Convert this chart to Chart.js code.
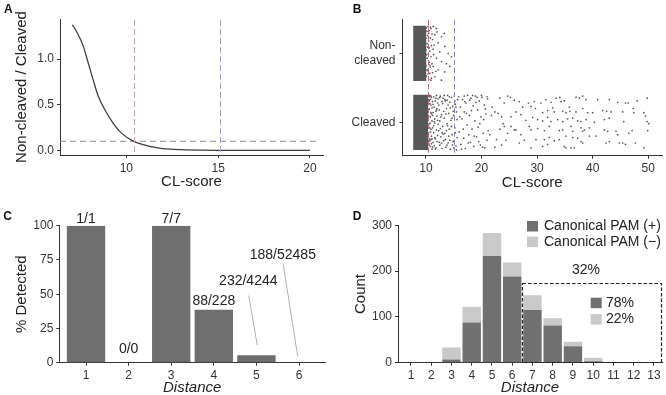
<!DOCTYPE html>
<html><head><meta charset="utf-8">
<script src="https://cdn.jsdelivr.net/npm/chart.js@4.4.0/dist/chart.umd.min.js"></script>
<style>
html,body{margin:0;padding:0;background:#fff;}
#wrap{position:relative;width:666px;height:395px;overflow:hidden;background:#fff;}
canvas{position:absolute;}
</style></head><body>
<div id="wrap">
<canvas id="cA" width="333" height="195" style="left:0;top:0"></canvas>
<canvas id="cB" width="333" height="195" style="left:333px;top:0"></canvas>
<canvas id="cC" width="333" height="200" style="left:0;top:195px"></canvas>
<canvas id="cD" width="333" height="200" style="left:333px;top:195px"></canvas>
</div>
<script>
// ---------- Panel A data ----------
const ratioScore = [7.06, 7.3, 7.66, 7.93, 8.2, 8.48, 8.84, 9.29, 9.75, 10.38, 11.02, 11.56, 12.0, 13.0, 14.0, 16.0, 18.0, 20.0];
const ratioValue = [1.377, 1.30, 1.14, 0.956, 0.77, 0.59, 0.443, 0.297, 0.187, 0.102, 0.058, 0.033, 0.02, 0.008, 0.003, 0.001, 0.0, 0.0];
const ratioCutoff = 0.1;
const cutRed = 10.4;
const cutBlue = 15.1;
const scoreTicksA = [10, 15, 20];
const ratioTicks = [0, 0.5, 1.0];

// ---------- Panel B data ----------
const groupNames = ['Cleaved', 'Non-cleaved'];
const groupLabels = [['Cleaved'], ['Non-', 'cleaved']];
const denseCleaved = [7.7, 10.4];
const denseNonCleaved = [7.7, 10.1];
const jitterHalf = 0.4;
const scoreTicksB = [10, 20, 30, 40, 50];
const nonCleavedPoints = [
[9.9,0.30],[10.0,-0.18],[10.0,0.05],[10.1,0.37],[10.1,-0.33],[10.2,0.14],[10.2,-0.07],[10.3,0.26],[10.3,-0.25],[10.4,-0.01],
[10.4,0.39],[10.5,-0.38],[10.5,0.18],[10.6,-0.13],[10.6,0.33],[10.7,0.03],[10.7,-0.29],[10.8,0.22],[10.8,-0.20],[10.9,0.36],
[10.9,-0.05],[11.0,0.11],[11.0,-0.36],[11.1,0.28],[11.1,-0.15],[11.2,-0.28],[11.3,0.06],[10.2,0.32],[10.4,-0.30],[10.6,0.08],
[10.9,-0.39],[11.2,0.20],[10.0,0.22],[10.1,-0.02],[10.3,0.09],[10.5,0.29],[10.7,-0.17],[10.0,-0.34],[10.2,-0.24],[10.8,0.38],
[11.3,0.39],[11.9,0.36],[11.6,0.27],[12.8,0.24],[13.3,0.29],[12.2,0.15],[13.4,0.10],[12.5,0.02],[14.0,0.0],[14.6,-0.05],
[11.9,-0.07],[12.8,-0.12],[13.7,-0.15],[11.3,-0.19],[12.2,-0.24],[13.4,-0.27],[14.3,-0.19],[11.6,-0.34],[12.8,-0.39],[11.5,0.12],
[11.8,-0.26],[11.4,-0.02],[12.0,0.31]
];
const cleavedPoints = [
[10.2,0.35],[10.3,0.12],[10.3,-0.22],[10.4,0.38],[10.4,-0.05],[10.3,0.27],[10.5,-0.31],[10.2,-0.12],[10.4,0.05],[10.4,-0.38],
[10.5,0.33],[10.5,-0.17],[10.6,0.19],[10.6,-0.02],[10.7,0.39],[10.7,-0.27],[10.8,0.08],[10.8,-0.35],[10.9,0.25],[10.9,-0.10],
[11.0,0.36],[11.0,-0.20],[11.1,0.02],[11.1,-0.39],[11.2,0.30],[11.2,-0.08],[11.3,0.14],[11.3,-0.29],[11.4,0.37],[11.4,-0.15],
[11.5,0.22],[11.5,-0.34],[11.6,0.05],[11.6,-0.01],[11.7,0.31],[11.7,-0.24],[11.8,0.16],[11.8,-0.37],[11.9,0.39],[11.9,-0.11],
[12.0,0.09],[12.0,-0.28],[12.1,0.28],[12.1,-0.19],[10.2,0.22],[10.3,0.02],[10.5,-0.28],[10.6,0.31],[10.8,-0.14],[10.9,0.38],
[11.0,0.12],[11.2,-0.36],[11.3,0.26],[11.5,0.01],[11.6,-0.22],[11.8,0.35],[12.0,0.20],[10.3,-0.36],[10.4,0.17],[10.7,-0.08],
[11.1,0.21],[11.4,-0.05],[11.7,-0.39],[12.1,0.03],[10.3,0.25],[10.3,-0.20],[10.6,-0.33],[10.9,-0.25],[11.2,0.10],[11.9,0.18],
[10.5,0.09],[10.6,-0.24],[10.7,0.27],[10.8,0.33],[10.9,0.14],[11.0,-0.31],[10.4,-0.26],[10.6,0.37],[10.8,-0.01],[11.1,-0.24],
[12.2,0.34],[12.3,-0.12],[12.4,0.18],[12.5,-0.33],[12.5,0.02],[12.6,0.38],[12.7,-0.21],[12.8,0.11],[12.9,-0.38],[13.0,0.27],
[13.0,-0.06],[13.1,0.35],[13.2,-0.27],[13.3,0.06],[13.4,-0.16],[13.5,0.31],[13.6,-0.36],[13.7,0.20],[13.8,-0.02],[13.9,0.39],
[14.0,-0.30],[14.1,0.13],[14.2,-0.10],[14.3,0.29],[14.4,-0.39],[14.5,0.03],[14.6,0.36],[14.7,-0.18],[14.8,0.23],[14.9,-0.28],
[15.0,0.10],[15.1,0.38],[15.2,-0.08],[15.3,0.26],[15.4,-0.34],[15.5,0.15],[15.6,-0.22],[15.7,0.33],[12.3,0.25],[12.6,-0.09],
[12.9,0.30],[13.2,0.16],[13.5,-0.25],[13.8,0.32],[14.1,-0.20],[14.4,0.21],[14.7,0.06],[15.0,-0.37],[15.3,-0.15],[15.6,0.04],
[12.4,-0.29],[12.8,-0.30],[13.3,0.39],[13.7,-0.12],[14.2,0.37],[14.6,-0.06],[15.2,0.31],[15.5,-0.40],[12.7,0.08],[13.1,-0.17],
[13.9,-0.05],[14.3,-0.26],[14.9,0.16],[15.4,0.22],[12.2,-0.03],[13.6,0.12],[14.8,-0.33],[12.5,0.36],[13.4,0.33],[14.0,0.25],
[15.1,-0.26],[12.9,-0.15],[13.8,-0.33],
[15.9,0.37],[16.0,-0.14],[16.2,0.22],[16.3,-0.32],[16.5,0.05],[16.6,0.33],[16.8,-0.23],[16.9,0.15],[17.1,-0.38],[17.2,0.28],
[17.4,-0.04],[17.5,0.39],[17.7,-0.18],[17.8,0.10],[18.0,-0.29],[18.1,0.35],[18.3,-0.10],[18.5,0.24],[18.6,-0.35],[18.8,0.02],
[18.9,0.38],[19.1,-0.21],[19.3,0.18],[19.4,-0.07],[19.6,0.31],[19.8,-0.33],[19.9,0.08],[20.1,0.36],[20.3,-0.16],[20.5,0.25],
[20.6,-0.37],[20.8,0.12],[21.0,-0.26],[21.1,0.34],[16.1,0.08],[16.7,-0.10],[17.0,0.30],[17.6,-0.30],[18.2,0.17],[18.7,-0.20],
[19.2,0.36],[19.7,-0.02],[20.2,-0.36],[20.7,0.19],[16.4,-0.39],[17.3,0.13],[18.4,0.39],[19.5,-0.28],[20.4,0.04],[21.2,-0.12],
[16.9,0.38],[17.9,0.32],[19.0,0.29],[20.0,0.39],[21.0,0.37],
[21.5,-0.18],[21.8,0.10],[21.9,0.22],[22.4,0.15],[22.4,-0.36],[22.7,-0.25],[22.96,0.13],[23.3,0.35],[23.3,-0.10],[23.6,0.08],
[23.6,-0.33],[23.9,-0.02],[24.1,0.28],[24.1,-0.06],[24.4,-0.26],[24.7,0.38],[24.7,-0.16],[25.2,0.36],[25.3,0.08],[25.3,-0.06],
[25.9,0.32],[25.9,-0.11],[26.2,0.15],[26.2,-0.11],[26.8,0.30],[26.8,-0.30],[27.1,0.11],[27.1,-0.18],[27.4,0.22],[27.7,-0.26],
[28.0,0.03],[28.45,0.28],[28.6,-0.06],
[29.5,0.30],[28.9,0.23],[30.7,0.28],[31.6,0.33],[32.5,0.29],[33.4,0.35],[34.3,0.30],[34.9,0.31],[34.1,0.36],[37.0,0.36],
[37.6,0.35],[38.2,0.38],[38.8,0.33],[40.9,0.33],[43.0,0.33],[44.5,0.29],[45.9,0.28],[46.4,0.28],[48.0,0.31],[49.8,0.35],
[29.7,0.20],[31.0,0.14],[31.9,0.17],[32.8,0.21],[33.1,0.15],[34.6,0.16],[35.2,0.14],[35.8,0.22],[35.9,0.16],[37.0,0.15],
[38.2,0.20],[39.1,0.14],[40.0,0.14],[41.8,0.17],[42.5,0.16],[43.3,0.15],[45.4,0.15],[47.3,0.20],[47.4,0.14],[49.2,0.14],
[29.2,0.07],[30.1,0.04],[31.0,0.02],[31.9,0.07],[32.5,0.01],[33.7,0.04],[34.6,0.01],[35.5,0.05],[36.4,0.06],[37.3,0.02],
[37.9,0.01],[38.8,0.04],[40.3,0.0],[42.1,0.04],[43.0,0.06],[45.6,0.01],[49.5,0.09],[49.8,0.01],[50.1,-0.02],
[28.9,-0.11],[30.1,-0.09],[31.3,-0.12],[32.2,-0.06],[34.0,-0.12],[34.6,-0.11],[36.1,-0.06],[36.4,-0.13],[37.9,-0.08],[38.2,-0.13],
[38.5,-0.11],[39.4,-0.08],[42.1,-0.11],[42.7,-0.13],[44.2,-0.13],[46.5,-0.16],[47.1,-0.12],[49.9,-0.12],
[29.8,-0.25],[31.3,-0.25],[32.2,-0.22],[33.1,-0.27],[34.0,-0.25],[35.2,-0.20],[36.4,-0.22],[37.3,-0.23],[37.9,-0.28],[39.4,-0.20],
[40.6,-0.20],[42.4,-0.30],[43.0,-0.28],[44.5,-0.18],[44.8,-0.30],[45.4,-0.30],[45.9,-0.32],[47.7,-0.30],[49.2,-0.37],
[28.9,-0.37],[31.0,-0.35],[31.9,-0.32],[34.9,-0.35],[35.2,-0.37],[36.1,-0.37],[36.7,-0.37],[38.2,-0.30]
];

// ---------- Panel C data ----------
const distC = [1, 2, 3, 4, 5, 6];
const detectedN = [1, 0, 7, 88, 232, 188];
const totalN = [1, 0, 7, 228, 4244, 52485];
const pctDetected = [100, 0, 100, 38.6, 5.47, 0.36];
const pctTicks = [0, 25, 50, 75, 100];

// ---------- Panel D data ----------
const distD = [1, 2, 3, 4, 5, 6, 7, 8, 9, 10, 11, 12, 13];
const pamPlus = [0, 0, 7, 88, 233, 188, 115, 81, 36, 3, 1, 0, 0];
const pamMinus = [0, 0, 26, 34, 50, 31, 32, 16, 10, 8, 0, 0, 0];
const countTicks = [0, 100, 200, 300];
const seriesNames = ['Canonical PAM (+)', 'Canonical PAM (\u2212)'];
const boxShare = '32%';
const boxSplit = ['78%', '22%'];
const boxFrom = 6.5, boxTop = 174;

// ---------- styling ----------
const FONT = "'Liberation Sans', Arial, Helvetica, sans-serif";
Chart.defaults.font.family = FONT;
Chart.defaults.color = '#333';
const DARK = '#707070', LIGHT = '#c9c9c9';

function axis(extra) {
  const base = {
    grid: {display: true, drawOnChartArea: false, drawTicks: true, tickLength: 3, color: '#333', lineWidth: 1, offset: false},
    border: {display: true, color: '#333', width: 1},
    ticks: {font: {size: 12}, color: '#333', padding: 3, autoSkip: false, maxRotation: 0},
    offset: false
  };
  return Object.assign(base, extra);
}
const fixTicks = arr => (s => { s.ticks = arr.map(v => ({value: v})); });

function letter(ch, x, y) {
  return {id: 'letter' + ch, afterDraw(chart) {
    const c = chart.ctx; c.save();
    c.font = 'bold 12px ' + FONT; c.fillStyle = '#111';
    c.textBaseline = 'alphabetic'; c.textAlign = 'left';
    c.fillText(ch, x, y); c.restore();
  }};
}
function vlines(list) {
  return {id: 'vlines', afterDatasetsDraw(chart) {
    const {ctx, chartArea, scales} = chart;
    ctx.save();
    list.forEach(l => {
      const px = Math.round(scales.x.getPixelForValue(l.v)) + 0.5;
      ctx.strokeStyle = l.color; ctx.lineWidth = 1; ctx.setLineDash(l.dash);
      ctx.beginPath(); ctx.moveTo(px, chartArea.top + 1); ctx.lineTo(px, chartArea.bottom - 3); ctx.stroke();
    });
    ctx.restore();
  }};
}
const common = {responsive: false, animation: false, events: [],
  plugins: {legend: {display: false}, tooltip: {enabled: false}}};

// ---------- Panel A ----------
new Chart(document.getElementById('cA'), {
  type: 'scatter',
  data: {datasets: [
    {type: 'line', data: ratioScore.map((x, i) => ({x, y: ratioValue[i]})), borderColor: '#3d3d3d', borderWidth: 1.3,
     pointRadius: 0, cubicInterpolationMode: 'monotone', fill: false},
    {type: 'line', data: [{x: 6.39, y: ratioCutoff}, {x: 20.35, y: ratioCutoff}], borderColor: '#8c8c8c', borderWidth: 1,
     borderDash: [6, 4], pointRadius: 0, fill: false}
  ]},
  options: Object.assign({}, common, {
    layout: {padding: {top: 19, right: 10, left: 0, bottom: 0}},
    scales: {
      x: axis({type: 'linear', min: 6.39, max: 20.71, afterBuildTicks: fixTicks(scoreTicksA),
        afterFit(s) { s.height = 40; },
        title: {display: true, text: 'CL-score', font: {size: 15}, color: '#222', padding: {top: 0, bottom: 4}}}),
      y: axis({type: 'linear', min: -0.05, max: 1.44, afterBuildTicks: fixTicks(ratioTicks),
        afterFit(s) { s.width = 60; },
        ticks: {font: {size: 12}, color: '#333', padding: 3, callback: v => Number(v).toFixed(1)},
        title: {display: true, text: 'Non-cleaved / Cleaved', font: {size: 15}, color: '#222', padding: {top: 13, bottom: 0}}})
    }
  }),
  plugins: [vlines([{v: cutRed, color: '#ec9c9c', dash: [6, 3]}, {v: cutBlue, color: '#9a9aee', dash: [6, 3]}]), letter('A', 4, 12.5)]
});

// ---------- Panel B ----------
const centerOf = name => groupNames.indexOf(name);
function band(range, name) {
  const c = centerOf(name);
  return {type: 'line', data: [{x: range[0], y: c + jitterHalf}, {x: range[1], y: c + jitterHalf}],
    fill: {value: c - jitterHalf}, backgroundColor: '#575757', borderWidth: 0, pointRadius: 0, showLine: true};
}
function pts(list, name) {
  const c = centerOf(name);
  return {data: list.map(([x, j]) => ({x, y: c + j})), pointRadius: 0.85, pointBorderWidth: 0,
    backgroundColor: '#555555', borderWidth: 0};
}
new Chart(document.getElementById('cB'), {
  type: 'scatter',
  data: {datasets: [
    band(denseCleaved, 'Cleaved'), band(denseNonCleaved, 'Non-cleaved'),
    pts(cleavedPoints, 'Cleaved'), pts(nonCleavedPoints, 'Non-cleaved')
  ]},
  options: Object.assign({}, common, {
    layout: {padding: {top: 19, right: 3, left: 0, bottom: 0}},
    scales: {
      x: axis({type: 'linear', min: 5.79, max: 52.47, afterBuildTicks: fixTicks(scoreTicksB),
        afterFit(s) { s.height = 39.3; },
        title: {display: true, text: 'CL-score', font: {size: 15}, color: '#222', padding: {top: 0, bottom: 3}}}),
      y: axis({type: 'linear', min: -0.484, max: 1.497, afterBuildTicks: fixTicks([0, 1]),
        afterFit(s) { s.width = 69.5; },
        ticks: {font: {size: 12, lineHeight: 1.2}, color: '#333', padding: 4, callback: v => groupLabels[v]}})
    }
  }),
  plugins: [vlines([{v: cutRed, color: '#e06060', dash: [5, 3]}, {v: cutBlue, color: '#8080e6', dash: [5, 3]}]), letter('B', 19.7, 12.5)]
});

// ---------- Panel C ----------
const callouts = [
  {lift: 3}, {lift: 10}, {lift: 3}, {lift: 5},
  {tx: 4.81, ty: 56.5, line: [4.82, 49.0, 5.02, 12.8]},
  {tx: 5.62, ty: 75.9, line: [5.63, 71.8, 5.97, 4.4]}
];
const cLabels = {id: 'cLabels', afterDatasetsDraw(chart) {
  const {ctx, scales: {x, y}} = chart;
  ctx.save();
  ctx.font = '14px ' + FONT; ctx.fillStyle = '#222'; ctx.textAlign = 'center'; ctx.textBaseline = 'alphabetic';
  distC.forEach((d, i) => {
    const text = detectedN[i] + '/' + totalN[i];
    const c = callouts[i];
    if (c.lift !== undefined) {
      ctx.fillText(text, x.getPixelForValue(d), y.getPixelForValue(pctDetected[i]) - c.lift);
    } else {
      ctx.fillText(text, x.getPixelForValue(c.tx), y.getPixelForValue(c.ty));
      ctx.strokeStyle = '#9a9a9a'; ctx.lineWidth = 0.8;
      ctx.beginPath();
      ctx.moveTo(x.getPixelForValue(c.line[0]), y.getPixelForValue(c.line[1]));
      ctx.lineTo(x.getPixelForValue(c.line[2]), y.getPixelForValue(c.line[3]));
      ctx.stroke();
    }
  });
  ctx.restore();
}};
new Chart(document.getElementById('cC'), {
  type: 'bar',
  data: {datasets: [{data: distC.map((x, i) => ({x, y: pctDetected[i]})), backgroundColor: '#6e6e6e',
    categoryPercentage: 1, barPercentage: 0.9, borderWidth: 0}]},
  options: Object.assign({}, common, {
    layout: {padding: {top: 30.7, right: 8, left: 0, bottom: 0}},
    scales: {
      x: axis({type: 'linear', min: 0.373, max: 6.61, afterBuildTicks: fixTicks(distC),
        afterFit(s) { s.height = 32.3; },
        title: {display: true, text: 'Distance', font: {size: 15, style: 'italic', lineHeight: 1}, color: '#222', padding: {top: 0, bottom: 0}}}),
      y: axis({type: 'linear', min: 0, max: 100, afterBuildTicks: fixTicks(pctTicks),
        afterFit(s) { s.width = 59.3; },
        title: {display: true, text: '% Detected', font: {size: 15}, color: '#222', padding: {top: 12.7, bottom: 0}}})
    }
  }),
  plugins: [cLabels, letter('C', 3.3, 25)]
});

// ---------- Panel D ----------
const dDecor = {id: 'dDecor', afterDatasetsDraw(chart) {
  const {ctx, scales: {x, y}} = chart;
  ctx.save();
  const x0 = x.getPixelForValue(boxFrom), x1 = chart.chartArea.right - 1;
  const y0 = y.getPixelForValue(boxTop), y1 = y.getPixelForValue(1.5);
  ctx.strokeStyle = '#222'; ctx.lineWidth = 1.2; ctx.setLineDash([3.5, 2]);
  ctx.strokeRect(Math.round(x0) + 0.5, Math.round(y0) + 0.5, Math.round(x1 - x0), Math.round(y1 - y0));
  ctx.setLineDash([]);
  ctx.font = '14px ' + FONT; ctx.fillStyle = '#222'; ctx.textBaseline = 'middle';
  const colors = [DARK, LIGHT];
  seriesNames.forEach((n, i) => {
    ctx.fillStyle = colors[i]; ctx.fillRect(194, 26 + i * 15.6, 11, 10.5);
    ctx.fillStyle = '#222'; ctx.textAlign = 'left'; ctx.fillText(n, 211, 31.5 + i * 15.8);
  });
  ctx.textAlign = 'center'; ctx.fillText(boxShare, 253, 75.5);
  boxSplit.forEach((t, i) => {
    ctx.fillStyle = colors[i]; ctx.fillRect(257.7, 102.7 + i * 16.4, 11, 10.5);
    ctx.fillStyle = '#222'; ctx.textAlign = 'left'; ctx.fillText(t, 273, 108.3 + i * 16.2);
  });
  ctx.restore();
}};
new Chart(document.getElementById('cD'), {
  type: 'bar',
  data: {datasets: [
    {label: seriesNames[0], data: distD.map((x, i) => ({x, y: pamPlus[i]})), backgroundColor: DARK,
     categoryPercentage: 1, barPercentage: 0.91, borderWidth: 0},
    {label: seriesNames[1], data: distD.map((x, i) => ({x, y: pamMinus[i]})), backgroundColor: LIGHT,
     categoryPercentage: 1, barPercentage: 0.91, borderWidth: 0}
  ]},
  options: Object.assign({}, common, {
    layout: {padding: {top: 30.3, right: 4, left: 0, bottom: 0}},
    scales: {
      x: axis({type: 'linear', stacked: true, min: 0.358, max: 13.40, afterBuildTicks: fixTicks(distD),
        afterFit(s) { s.height = 32.3; },
        title: {display: true, text: 'Distance', font: {size: 15, style: 'italic', lineHeight: 1}, color: '#222', padding: {top: 0, bottom: 0}}}),
      y: axis({type: 'linear', stacked: true, min: 0, max: 300, afterBuildTicks: fixTicks(countTicks),
        afterFit(s) { s.width = 65; },
        title: {display: true, text: 'Count', font: {size: 15}, color: '#222', padding: {top: 18.5, bottom: 0}}})
    }
  }),
  plugins: [dDecor, letter('D', 19.7, 25)]
});
</script>
</body></html>
